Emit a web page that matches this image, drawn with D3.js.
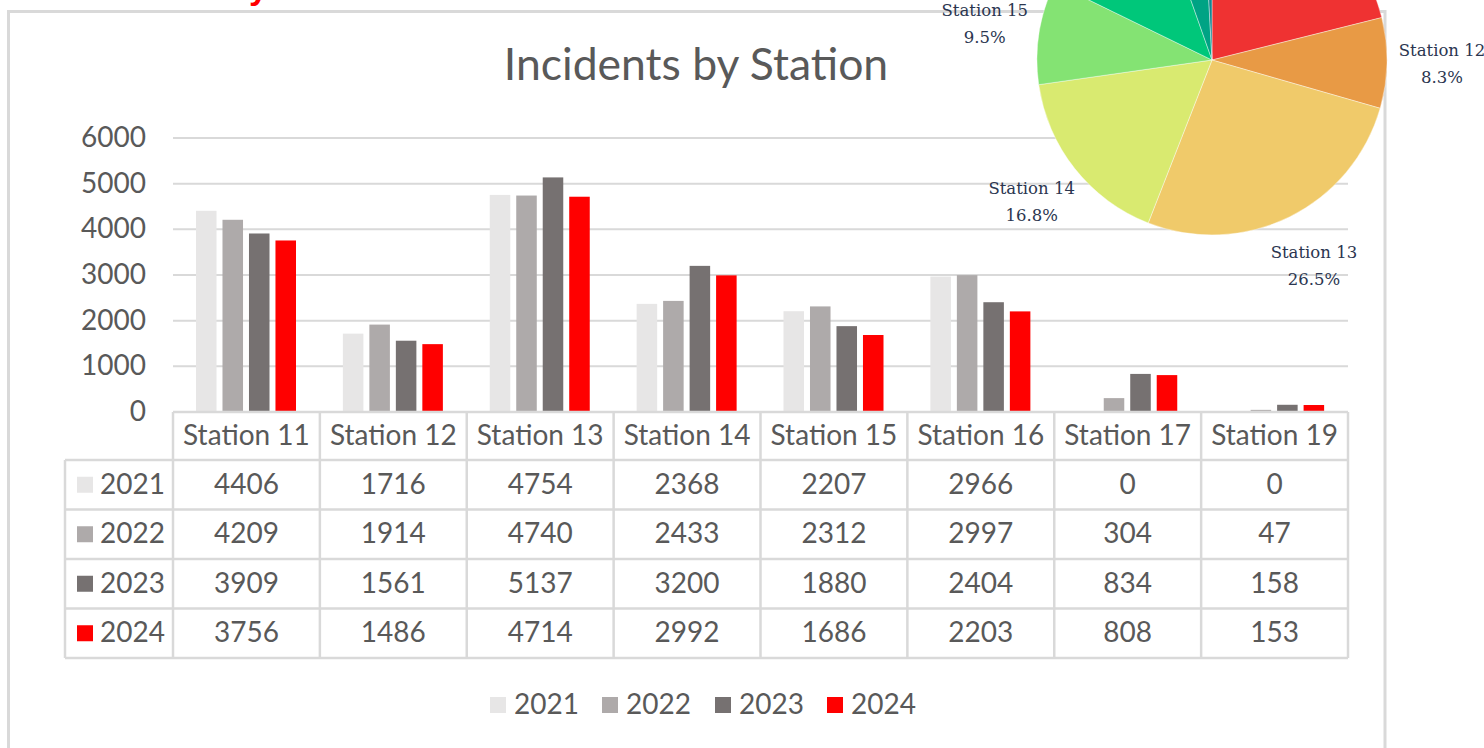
<!DOCTYPE html>
<html>
<head>
<meta charset="utf-8">
<script src="https://cdn.jsdelivr.net/npm/d3@7"></script>
<style>
  html, body { margin: 0; padding: 0; background: #fff; overflow: hidden; }
  svg { display: block; }
</style>
</head>
<body>
<svg id="chart" width="1484" height="748"></svg>
<script>
// ---- Data ----
const categories = ["Station 11", "Station 12", "Station 13", "Station 14", "Station 15", "Station 16", "Station 17", "Station 19"];
const years = ["2021", "2022", "2023", "2024"];
const values2021 = [4406, 1716, 4754, 2368, 2207, 2966, 0, 0];
const values2022 = [4209, 1914, 4740, 2433, 2312, 2997, 304, 47];
const values2023 = [3909, 1561, 5137, 3200, 1880, 2404, 834, 158];
const values2024 = [3756, 1486, 4714, 2992, 1686, 2203, 808, 153];
const yTicks = [0, 1000, 2000, 3000, 4000, 5000, 6000];
const yearColors = ["#E7E6E6", "#AEAAAA", "#767171", "#FF0000"];
const pieColors = ["#EF3232", "#E89A45", "#F0CA6A", "#D9EA70", "#84E373", "#00C77A", "#00A384", "#14858F"];
const chartTitle = "Incidents by Station";

const series = [values2021, values2022, values2023, values2024];

const svg = d3.select("#chart");
const textColor = "#595959";
const gridColor = "#D9D9D9";
const font = "Lato, 'Open Sans', sans-serif";
const fs = 28;

svg.append("rect").attr("width", 1484).attr("height", 748).attr("fill", "#fff");

// heading above the frame (only descender visible)
svg.append("text")
  .attr("x", 268).attr("y", -1)
  .attr("text-anchor", "end")
  .attr("font-family", "'Liberation Sans', sans-serif")
  .attr("font-weight", "bold")
  .attr("font-size", 34)
  .attr("fill", "#FF0000")
  .text("Incident Summary");

// chart frame
svg.append("rect")
  .attr("x", 8.5).attr("y", 11.5)
  .attr("width", 1376.5).attr("height", 800)
  .attr("fill", "#fff")
  .attr("stroke", gridColor).attr("stroke-width", 3);

// title
svg.append("text")
  .attr("x", 696).attr("y", 80)
  .attr("text-anchor", "middle")
  .attr("font-family", font)
  .attr("font-size", 44.5)
  .attr("fill", textColor)
  .text(chartTitle);

// scales
const x = d3.scaleBand().domain(categories).range([173, 1348]).paddingInner(0).paddingOuter(0);
const xInner = d3.scaleBand().domain(years).range([23, 123]).paddingInner(0.225);
const y = d3.scaleLinear().domain([0, 6000]).range([412, 138]);

// gridlines
svg.append("g").selectAll("line").data(yTicks.filter(d => d > 0)).join("line")
  .attr("x1", 173).attr("x2", 1348)
  .attr("y1", d => y(d)).attr("y2", d => y(d))
  .attr("stroke", gridColor).attr("stroke-width", 2);

// y axis labels
svg.append("g").selectAll("text").data(yTicks).join("text")
  .attr("x", 146).attr("y", d => y(d) + 2)
  .attr("text-anchor", "end")
  .attr("dominant-baseline", "middle")
  .attr("font-family", font).attr("font-size", fs)
  .attr("fill", textColor)
  .text(d => d);

// bars
const barG = svg.append("g");
series.forEach((vals, si) => {
  barG.append("g").selectAll("rect").data(categories).join("rect")
    .attr("x", (c) => x(c) + xInner(years[si]))
    .attr("width", xInner.bandwidth())
    .attr("y", (c, i) => y(vals[i]))
    .attr("height", (c, i) => y(0) - y(vals[i]))
    .attr("fill", yearColors[si]);
});

// data table
const tbl = svg.append("g");
const rowTops = [460, 509.5, 559, 608.5, 658];
const lineAttr = sel => sel.attr("stroke", gridColor).attr("stroke-width", 2.5);
tbl.append("line").attr("x1", 173).attr("x2", 1348).attr("y1", 412).attr("y2", 412).call(lineAttr);
rowTops.forEach(ry => {
  tbl.append("line").attr("x1", 65).attr("x2", 1348).attr("y1", ry).attr("y2", ry).call(lineAttr);
});
const vx = categories.map(c => x(c)).concat([x(categories[categories.length - 1]) + x.bandwidth()]);
vx.forEach(xx => {
  tbl.append("line").attr("x1", xx).attr("x2", xx).attr("y1", 412).attr("y2", 658).call(lineAttr);
});
tbl.append("line").attr("x1", 65).attr("x2", 65).attr("y1", 460).attr("y2", 658).call(lineAttr);

// header
tbl.append("g").selectAll("text").data(categories).join("text")
  .attr("x", c => x(c) + x.bandwidth() / 2).attr("y", 438)
  .attr("text-anchor", "middle").attr("dominant-baseline", "middle")
  .attr("font-family", font).attr("font-size", fs).attr("fill", textColor)
  .text(c => c);

// rows
years.forEach((yr, si) => {
  const cy = (rowTops[si] + rowTops[si + 1]) / 2;
  tbl.append("rect").attr("x", 77).attr("y", cy - 8).attr("width", 16).attr("height", 16).attr("fill", yearColors[si]);
  tbl.append("text").attr("x", 100).attr("y", cy + 2)
    .attr("dominant-baseline", "middle")
    .attr("font-family", font).attr("font-size", fs).attr("fill", textColor)
    .text(yr);
  tbl.append("g").selectAll("text").data(categories).join("text")
    .attr("x", c => x(c) + x.bandwidth() / 2).attr("y", cy + 2)
    .attr("text-anchor", "middle").attr("dominant-baseline", "middle")
    .attr("font-family", font).attr("font-size", fs).attr("fill", textColor)
    .text((c, i) => series[si][i]);
});

// legend
const legendX = [490, 602, 715, 827];
const leg = svg.append("g");
years.forEach((yr, si) => {
  leg.append("rect").attr("x", legendX[si]).attr("y", 697).attr("width", 16).attr("height", 16).attr("fill", yearColors[si]);
  leg.append("text").attr("x", legendX[si] + 24).attr("y", 707)
    .attr("dominant-baseline", "middle")
    .attr("font-family", font).attr("font-size", fs).attr("fill", textColor)
    .text(yr);
});

// pie (share of 2024 incidents)
const pieData = d3.pie().sort(null).value(d => d.v)(categories.map((c, i) => ({ c, v: values2024[i] })));
const total2024 = d3.sum(values2024);
const arc = d3.arc().innerRadius(0).outerRadius(175);
const labelArc = d3.arc().innerRadius(230).outerRadius(230);
const pieG = svg.append("g").attr("transform", "translate(1212,60)");
pieG.selectAll("path").data(pieData).join("path")
  .attr("d", arc)
  .attr("fill", (d, i) => pieColors[i])
  .attr("stroke", "#fff").attr("stroke-width", 0.4);
const pct = d3.format(".1%");
const lab = pieG.selectAll("g.lab").data(pieData).join("g").attr("class", "lab")
  .attr("transform", d => `translate(${labelArc.centroid(d)})`);
lab.append("text").attr("y", -13)
  .attr("text-anchor", "middle").attr("dominant-baseline", "middle")
  .attr("font-family", "'DejaVu Serif', serif").attr("font-size", 16.5).attr("fill", "#2B3650")
  .text(d => d.data.c);
lab.append("text").attr("y", 14)
  .attr("text-anchor", "middle").attr("dominant-baseline", "middle")
  .attr("font-family", "'DejaVu Serif', serif").attr("font-size", 16.5).attr("fill", "#2B3650")
  .text(d => pct(d.data.v / total2024));
</script>
</body>
</html>
